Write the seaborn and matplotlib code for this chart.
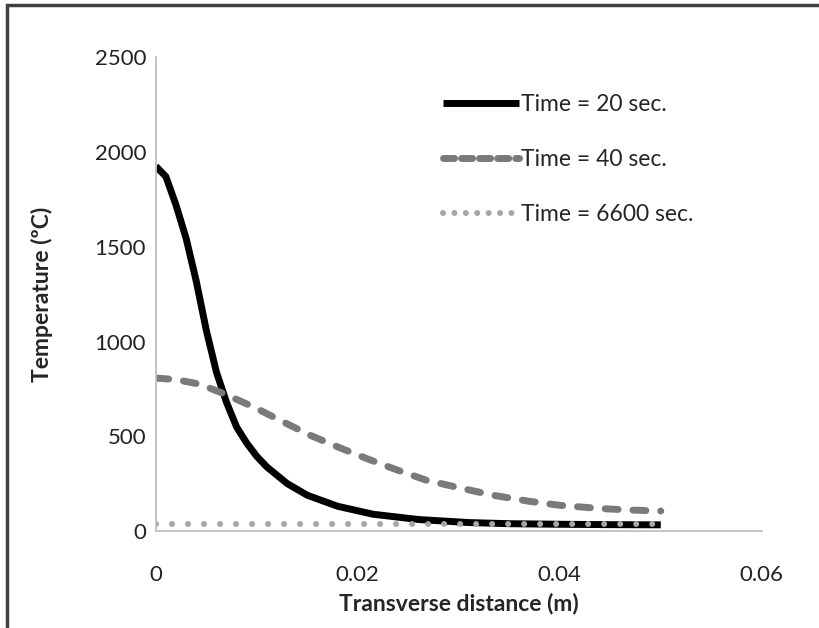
import numpy as np
import pandas as pd
import matplotlib
matplotlib.use('Agg')
import matplotlib.pyplot as plt
import seaborn as sns
from matplotlib.patches import Rectangle

# transverse distance (m) and temperature (C)
x_20 = [0.0, 0.001, 0.002, 0.003, 0.004, 0.005, 0.006, 0.007, 0.008, 0.009, 0.010,
        0.011, 0.013, 0.015, 0.018, 0.0215, 0.026, 0.031, 0.035, 0.040, 0.045, 0.050]
t_20 = [1925, 1870, 1720, 1545, 1320, 1060, 840, 680, 550, 465, 395,
        339, 252, 190, 132, 90, 62, 46, 40, 37, 35, 34]

x_40 = [0.0, 0.002, 0.0044, 0.007, 0.010, 0.0125, 0.0153, 0.018, 0.0209, 0.0238,
        0.0268, 0.030, 0.0334, 0.037, 0.040, 0.044, 0.047, 0.050]
t_40 = [808, 800, 775, 720, 647, 580, 506, 445, 383, 325,
        269, 230, 190, 158, 137, 120, 112, 107]

x_6600 = [0.0, 0.01, 0.02, 0.03, 0.04, 0.05]
t_6600 = [38, 38, 38, 38, 38, 38]

labels = ['Time = 20 sec.', 'Time = 40 sec.', 'Time = 6600 sec.']

sns.set_style('white')
plt.rcParams['font.family'] = ['Lato', 'DejaVu Sans']

fig = plt.figure(figsize=(8.2, 6.28), dpi=100)
ax = fig.add_axes([0.19, 0.154, 0.739, 0.755])

sns.lineplot(x=x_20, y=t_20, ax=ax, color='black', linewidth=5, label=labels[0])
sns.lineplot(x=x_40, y=t_40, ax=ax, color='#7a7a7a', linewidth=5, label=labels[1])
sns.lineplot(x=x_6600, y=t_6600, ax=ax, color='#a6a6a6', linewidth=4.3, label=labels[2])

l20, l40, l6600 = ax.lines[:3]
l20.set_solid_capstyle('butt')
l20.set_solid_joinstyle('round')
l40.set_dashes([1.86, 2.14])
l40.set_dash_capstyle('round')
l6600.set_dashes([0.01, 2.67])
l6600.set_dash_capstyle('round')

ax.set_xlim(0, 0.06)
ax.set_ylim(0, 2500)
ax.set_xticks([0, 0.02, 0.04, 0.06])
ax.set_xticklabels(['0', '0.02', '0.04', '0.06'])
ax.set_yticks([0, 500, 1000, 1500, 2000, 2500])
ax.tick_params(axis='both', length=0, labelsize=16, colors='#222222')
ax.tick_params(axis='x', pad=24)
ax.tick_params(axis='y', pad=7)
for side in ['top', 'right']:
    ax.spines[side].set_visible(False)
for side in ['left', 'bottom']:
    ax.spines[side].set_color('#bfbfbf')
    ax.spines[side].set_linewidth(1.3)

ax.set_xlabel('Transverse distance (m)', fontsize=16.5, fontweight='bold', labelpad=6)
ax.set_ylabel('Temperature (ºC)', fontsize=16.5, fontweight='bold', labelpad=30)

leg = ax.legend(loc='upper left', bbox_to_anchor=(0.44, 0.966), frameon=False,
                fontsize=16.5, handlelength=3.3, handletextpad=0.1, labelspacing=1.48)
leg.get_lines()[1].set_dashes([1.6, 1.0])
leg.get_lines()[2].set_dashes([0.01, 1.9])

fig.patches.append(Rectangle((0.009, -0.05), 1.2, 1.042, transform=fig.transFigure,
                             fill=False, edgecolor='#404040', linewidth=2.5))

fig.savefig('out.png', dpi=100)
